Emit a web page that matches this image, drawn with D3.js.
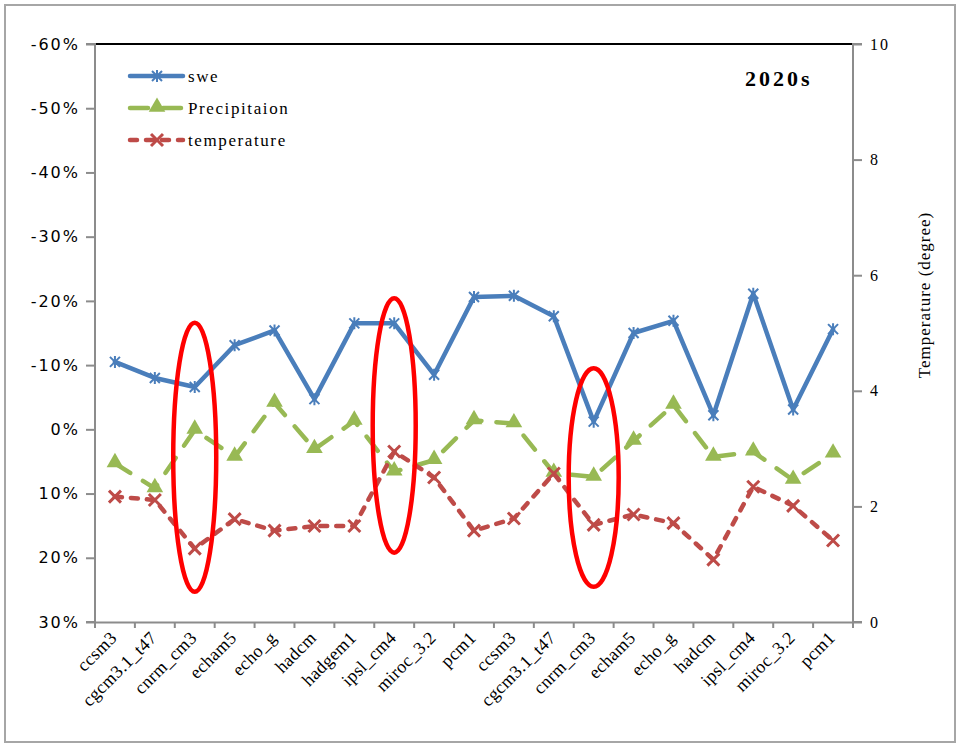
<!DOCTYPE html>
<html>
<head>
<meta charset="utf-8">
<script src="https://cdn.jsdelivr.net/npm/d3@7"></script>
<style>
  body { margin: 0; background: #fff; }
  .serif { font-family: "Liberation Serif", "Times New Roman", serif; }
</style>
</head>
<body>
<div id="chart"></div>
<script>
// models, two groups (second group has no hadgem1)
const categories = ["ccsm3", "cgcm3.1_t47", "cnrm_cm3", "echam5", "echo_g", "hadcm", "hadgem1",
  "ipsl_cm4", "miroc_3.2", "pcm1", "ccsm3", "cgcm3.1_t47", "cnrm_cm3", "echam5", "echo_g",
  "hadcm", "ipsl_cm4", "miroc_3.2", "pcm1"];

// percent change (left axis, negative values plotted upward)
const swe = [-10.5, -8.0, -6.6, -13.1, -15.4, -4.7, -16.5, -16.5, -8.5, -20.6,
  -20.8, -17.6, -1.2, -15.0, -16.9, -2.2, -21.1, -3.1, -15.6];
const precipitation = [5.3, 9.2, 0.1, 4.3, -4.1, 3.1, -1.3, 6.6, 4.8, -1.4,
  -0.9, 6.8, 7.4, 1.8, -3.8, 4.3, 3.5, 7.9, 3.8];
// degrees (right axis)
const temperature = [2.17, 2.11, 1.27, 1.78, 1.58, 1.66, 1.66, 2.95, 2.50, 1.58,
  1.79, 2.57, 1.68, 1.86, 1.71, 1.08, 2.34, 2.01, 1.41];

const leftTicks = [-60, -50, -40, -30, -20, -10, 0, 10, 20, 30];
const rightTicks = [0, 2, 4, 6, 8, 10];

// highlighted models: category index and span on the left axis
const highlights = [
  { index: 2, from: -16.6, to: 25.3 },
  { index: 7, from: -20.4, to: 19.2 },
  { index: 12, from: -9.5, to: 24.5 }
];

const width = 960, height = 746;
const margin = { top: 44, right: 107, bottom: 124, left: 95 };
const innerW = width - margin.left - margin.right;
const innerH = height - margin.top - margin.bottom;

const blue = "#4a7ebb", green = "#98b954", red = "#be4b48";

const svg = d3.select("#chart")
  .append("svg")
  .attr("width", width)
  .attr("height", height);

// outer chart border
svg.append("rect")
  .attr("x", 5).attr("y", 5)
  .attr("width", 950).attr("height", 737)
  .attr("fill", "none")
  .attr("stroke", "#a6a6a6")
  .attr("stroke-width", 2);

const g = svg.append("g")
  .attr("transform", `translate(${margin.left},${margin.top})`);

const x = d3.scaleBand()
  .domain(d3.range(categories.length))
  .range([0, innerW])
  .padding(0);
const cx = i => x(i) + x.bandwidth() / 2;

const y = d3.scaleLinear().domain([-60, 30]).range([0, innerH]);
const y2 = d3.scaleLinear().domain([0, 10]).range([innerH, 0]);

// top border of the plot area
g.append("line")
  .attr("x1", 0).attr("x2", innerW)
  .attr("y1", 0).attr("y2", 0)
  .attr("stroke", "#000").attr("stroke-width", 2);

// left axis
const yAxis = g.append("g")
  .call(d3.axisLeft(y).tickValues(leftTicks).tickSize(9).tickPadding(6)
    .tickFormat(d => d + "%"));
yAxis.selectAll("text")
  .attr("font-family", "DejaVu Sans, Verdana, sans-serif")
  .attr("font-size", 16)
  .attr("letter-spacing", 2)
  .attr("fill", "#000");

// right axis
const y2Axis = g.append("g")
  .attr("transform", `translate(${innerW},0)`)
  .call(d3.axisRight(y2).tickValues(rightTicks).tickSize(9).tickPadding(8));
y2Axis.selectAll("text")
  .attr("class", "serif")
  .attr("font-family", null)
  .attr("font-size", 16)
  .attr("letter-spacing", 2)
  .attr("fill", "#000");

// bottom axis: ticks on category boundaries, labels slanted
const xAxis = g.append("g")
  .attr("transform", `translate(0,${innerH})`)
  .call(d3.axisBottom(x).tickSize(0).tickPadding(0).tickFormat(""));
xAxis.selectAll(".boundary")
  .data(d3.range(categories.length + 1))
  .join("line")
  .attr("class", "boundary")
  .attr("x1", i => i < categories.length ? x(i) : innerW)
  .attr("x2", i => i < categories.length ? x(i) : innerW)
  .attr("y1", 0).attr("y2", 6);
xAxis.selectAll(".lbl")
  .data(categories)
  .join("text")
  .attr("class", "lbl serif")
  .attr("text-anchor", "end")
  .attr("font-size", 18)
  .attr("letter-spacing", 0.3)
  .attr("fill", "#000")
  .attr("transform", (d, i) => `translate(${cx(i) + 3},17) rotate(-45)`)
  .text(d => d);

g.selectAll(".domain, .tick line, .boundary")
  .attr("stroke", "#8c8c8c")
  .attr("stroke-width", 2);
yAxis.select(".domain").attr("d", `M-9,0H0V${innerH}H-9`);
y2Axis.select(".domain").attr("d", `M9,0H0V${innerH}H9`);

// right axis title
svg.append("text")
  .attr("class", "serif")
  .attr("font-size", 17)
  .attr("letter-spacing", 1)
  .attr("text-anchor", "middle")
  .attr("transform", `translate(930,${margin.top + innerH / 2 - 38}) rotate(-90)`)
  .text("Temperature (degree)");

// markers
const starPath = s => `M${-s},${-s}L${s},${s}M${-s},${s}L${s},${-s}M0,${-s - 1}L0,${s + 1}`;
const crossPath = s => `M${-s},${-s}L${s},${s}M${-s},${s}L${s},${-s}`;
const triPath = d3.symbol().type(d3.symbolTriangle).size(120)();

const series = [
  { name: "swe", values: swe, scale: y, color: blue, dash: null, marker: "star" },
  { name: "Precipitaion", values: precipitation, scale: y, color: green, dash: "18,15", marker: "tri" },
  { name: "temperature", values: temperature, scale: y2, color: red, dash: "7,9", marker: "cross" }
];

function drawMarker(sel, type, color) {
  if (type === "star") {
    sel.append("path").attr("d", starPath(5))
      .attr("stroke", color).attr("stroke-width", 2).attr("fill", "none");
  } else if (type === "tri") {
    sel.append("path").attr("d", triPath).attr("fill", color)
      .attr("transform", "translate(0,-1)");
  } else {
    sel.append("path").attr("d", crossPath(6))
      .attr("stroke", color).attr("stroke-width", 3).attr("fill", "none");
  }
}

series.forEach(s => {
  const line = d3.line()
    .x((d, i) => cx(i))
    .y(d => s.scale(d));
  g.append("path")
    .datum(s.values)
    .attr("fill", "none")
    .attr("stroke", s.color)
    .attr("stroke-width", 4.5)
    .attr("stroke-linecap", "round")
    .attr("stroke-linejoin", "round")
    .attr("stroke-dasharray", s.dash)
    .attr("d", line);
  g.selectAll(null)
    .data(s.values)
    .join("g")
    .attr("transform", (d, i) => `translate(${cx(i)},${s.scale(d)})`)
    .each(function () { drawMarker(d3.select(this), s.marker, s.color); });
});

// red ellipses
g.selectAll(".hl")
  .data(highlights)
  .join("ellipse")
  .attr("class", "hl")
  .attr("cx", d => cx(d.index))
  .attr("cy", d => (y(d.from) + y(d.to)) / 2)
  .attr("rx", d => d.index === 12 ? 25 : 21.5)
  .attr("ry", d => (y(d.to) - y(d.from)) / 2)
  .attr("fill", "none")
  .attr("stroke", "#ff0000")
  .attr("stroke-width", 4.5);

// legend
const legend = svg.append("g").attr("transform", "translate(130,76)");
series.forEach((s, k) => {
  const row = legend.append("g").attr("transform", `translate(0,${k * 32})`);
  row.append("line")
    .attr("x1", 0).attr("x2", 53)
    .attr("stroke", s.color)
    .attr("stroke-width", 4.5)
    .attr("stroke-linecap", "round")
    .attr("stroke-dasharray", s.dash);
  drawMarker(row.append("g").attr("transform", "translate(27,0)"), s.marker, s.color);
  row.append("text")
    .attr("class", "serif")
    .attr("x", 58)
    .attr("dy", "0.35em")
    .attr("font-size", 17)
    .attr("letter-spacing", 1.6)
    .text(s.name);
});

// period label
svg.append("text")
  .attr("class", "serif")
  .attr("x", 745).attr("y", 86)
  .attr("font-size", 22)
  .attr("font-weight", "bold")
  .attr("letter-spacing", 3)
  .text("2020s");
</script>
</body>
</html>
